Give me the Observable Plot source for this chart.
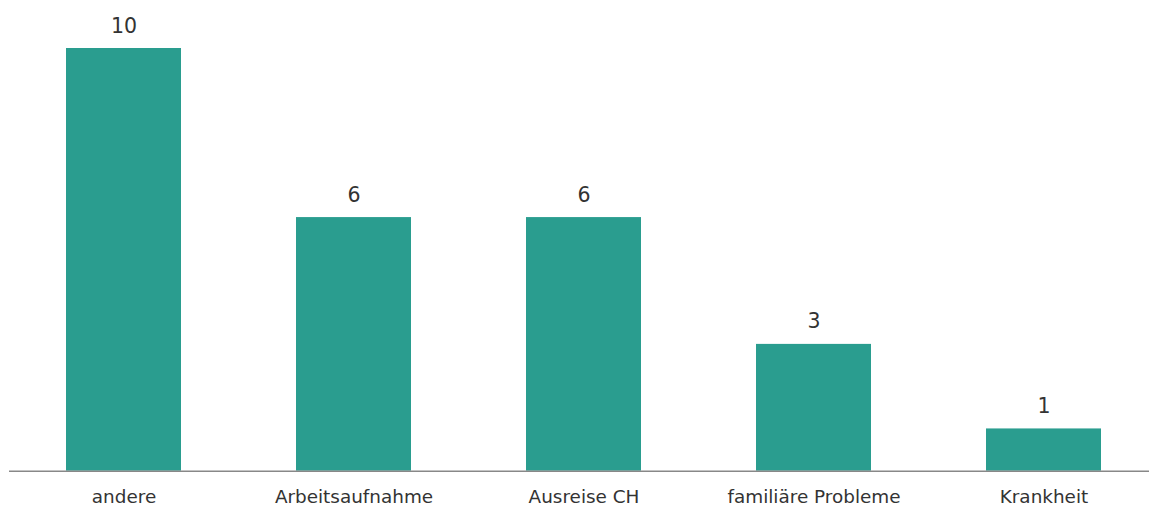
<!DOCTYPE html>
<html>
<head>
<meta charset="utf-8">
<script src="https://cdn.jsdelivr.net/npm/d3@7"></script>
<script src="https://cdn.jsdelivr.net/npm/@observablehq/plot@0.6"></script>
<style>
  html, body { margin: 0; padding: 0; background: #fff; }
  #chart svg { display: block; }
</style>
</head>
<body>
<div id="chart"></div>
<script>
const categories = ["andere", "Arbeitsaufnahme", "Ausreise CH", "familiäre Probleme", "Krankheit"];
const values = [10, 6, 6, 3, 1];

const data = categories.map((c, i) => ({category: c, value: values[i]}));

const chart = Plot.plot({
  width: 1149,
  height: 506,
  marginTop: 48,
  marginBottom: 35.3,
  marginLeft: 9,
  marginRight: 0,
  style: {fontFamily: "'DejaVu Sans', Verdana, sans-serif", color: "#333", background: "#fff"},
  x: {domain: categories, range: [8.5, 1158.5], paddingInner: 0.5, paddingOuter: 0.25, label: null},
  y: {domain: [0, 10], nice: false, axis: null},
  marks: [
    Plot.barY(data, {x: "category", y: "value", fill: "#2a9d8f"}),
    Plot.ruleY([0], {stroke: "#888", strokeWidth: 1.5}),
    Plot.text(data, {x: "category", y: "value", text: d => String(d.value), lineAnchor: "bottom", dy: -16, fontSize: 20.5, fill: "#333"}),
    Plot.axisX({tickSize: 0, tickPadding: 19, fontSize: 18.4, fill: "#333", label: null})
  ]
});
document.getElementById("chart").appendChild(chart);
</script>
</body>
</html>
